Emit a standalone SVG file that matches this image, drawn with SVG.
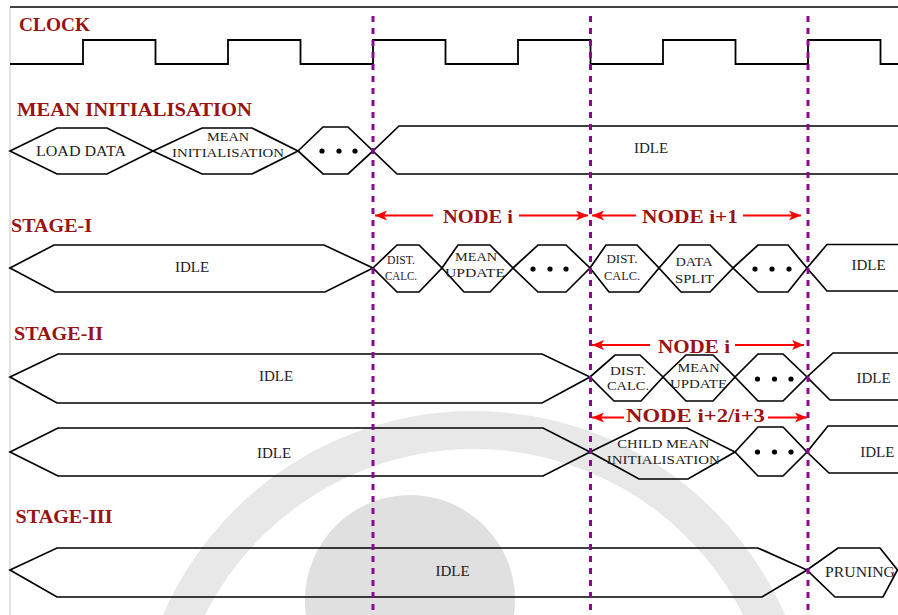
<svg xmlns="http://www.w3.org/2000/svg" width="898" height="615" viewBox="0 0 898 615">
<style>
.lbl{font-family:"Liberation Serif","DejaVu Serif",serif;font-weight:bold;font-size:19px;fill:#9a1212}
.nl{font-family:"Liberation Serif","DejaVu Serif",serif;font-weight:bold;font-size:19px;fill:#9a1212;text-anchor:middle}
.t{font-family:"Liberation Serif","DejaVu Serif",serif;font-size:15px;fill:#222;text-anchor:middle}
.s{font-family:"Liberation Serif","DejaVu Serif",serif;font-size:13px;fill:#222;text-anchor:middle}
.hx{fill:none;stroke:#000;stroke-width:1.7;stroke-linejoin:miter}
.vl{stroke:#8c0a8c;stroke-width:3;stroke-dasharray:6 6;fill:none}
.ar{stroke:#ff0000;stroke-width:2;fill:none;marker-end:url(#ah)}
</style>
<defs>
<marker id="ah" viewBox="0 0 12 10" refX="12" refY="5" markerWidth="12" markerHeight="10" markerUnits="userSpaceOnUse" orient="auto">
<path d="M0,0 L12,5 L0,10 L3,5 Z" fill="#ff0000"/>
</marker>
</defs>
<rect width="898" height="615" fill="#fff"/>
<g id="watermark">
<circle cx="474" cy="750" r="320" fill="none" stroke="#e8e8e8" stroke-width="38"/>
<circle cx="410" cy="600" r="105" fill="#e0e0e0"/>
</g>
<g id="frame">
<line x1="10" y1="7" x2="10" y2="615" stroke="#c8c8c8" stroke-width="1"/>
<line x1="10" y1="7" x2="898" y2="7" stroke="#000" stroke-width="1.6"/>
</g>
<g id="labels">
<text class="lbl" x="19" y="31" textLength="71" lengthAdjust="spacingAndGlyphs">CLOCK</text>
<text class="lbl" x="17" y="116" textLength="235" lengthAdjust="spacingAndGlyphs">MEAN INITIALISATION</text>
<text class="lbl" x="11" y="232" textLength="81" lengthAdjust="spacingAndGlyphs">STAGE-I</text>
<text class="lbl" x="14" y="340" textLength="89" lengthAdjust="spacingAndGlyphs">STAGE-II</text>
<text class="lbl" x="15.5" y="523" textLength="97" lengthAdjust="spacingAndGlyphs">STAGE-III</text>
</g>
<g id="clock">
<path d="M10,64 H83 V40 H155.5 V64 H228 V40 H300.5 V64 H373 V40 H445.5 V64 H518 V40 H590.5 V64 H663 V40 H735.5 V64 H808 V40 H880.5 V64 H898" fill="none" stroke="#000" stroke-width="1.8"/>
</g>
<g id="mean-init">
<g id="mi-load"><polygon class="hx" points="10,151 57,128 107,128 153,151 107,174 57,174"/><text class="t" x="81" y="156" textLength="90" lengthAdjust="spacingAndGlyphs">LOAD DATA</text></g>
<g id="mi-mean"><polygon class="hx" points="153,151 202,128 252,128 298,151 252,174 202,174"/><text class="s" x="228" y="141" textLength="42" lengthAdjust="spacingAndGlyphs">MEAN</text><text class="s" x="228" y="157" textLength="112" lengthAdjust="spacingAndGlyphs">INITIALISATION</text></g>
<g id="mi-dots"><polygon class="hx" points="298,151 323,127 348,127 373,151 348,174 323,174"/><circle cx="322" cy="151" r="2.6"/><circle cx="339" cy="151" r="2.6"/><circle cx="355" cy="151" r="2.6"/></g>
<g id="mi-idle"><path class="hx" d="M898,126 H399 L373,151 L397,174 H898"/><text class="t" x="651" y="153">IDLE</text></g>
</g>
<g id="stage1">
<g id="s1-idle"><polygon class="hx" points="10,268 54,245 324,245 373,268 325,292 55,292"/><text class="t" x="192" y="272">IDLE</text></g>
<g id="s1-dist"><polygon class="hx" points="373,268 397,245 419,245 442,268 419,292 397,292"/><text class="s" x="401" y="264" textLength="28" lengthAdjust="spacingAndGlyphs">DIST.</text><text class="s" x="401" y="280" textLength="32" lengthAdjust="spacingAndGlyphs">CALC.</text></g>
<g id="s1-mean"><polygon class="hx" points="442,268 458,245 490,245 513,268 490,292 464,292"/><text class="s" x="476" y="261" textLength="42" lengthAdjust="spacingAndGlyphs">MEAN</text><text class="s" x="475" y="277" textLength="60" lengthAdjust="spacingAndGlyphs">UPDATE</text></g>
<g id="s1-dots"><polygon class="hx" points="513,268 538,245 566,245 590,268 566,292 538,292"/><circle cx="533" cy="269" r="2.6"/><circle cx="550" cy="269" r="2.6"/><circle cx="566" cy="269" r="2.6"/></g>
<g id="s1-dist2"><polygon class="hx" points="590,268 606,245 637,245 659,268 639,292 609,292"/><text class="s" x="622" y="263" textLength="31" lengthAdjust="spacingAndGlyphs">DIST.</text><text class="s" x="622" y="280" textLength="36" lengthAdjust="spacingAndGlyphs">CALC.</text></g>
<g id="s1-split"><polygon class="hx" points="659,268 679,245 710,245 733,268 710,292 681,292"/><text class="s" x="694" y="266" textLength="37" lengthAdjust="spacingAndGlyphs">DATA</text><text class="s" x="694.5" y="282.5" textLength="39" lengthAdjust="spacingAndGlyphs">SPLIT</text></g>
<g id="s1-dots2"><polygon class="hx" points="733,268 758,245 788,245 807,268 788,292 758,292"/><circle cx="755" cy="269" r="2.6"/><circle cx="772" cy="269" r="2.6"/><circle cx="789" cy="269" r="2.6"/></g>
<g id="s1-idle2"><path class="hx" d="M898,244.5 H827 L807,268 L827,291 H898"/><text class="t" x="868.5" y="270">IDLE</text></g>
</g>
<g id="stage2a">
<g id="s2a-idle"><polygon class="hx" points="10,377 58,354 542,354 590,377 542,403 57,403"/><text class="t" x="276" y="381">IDLE</text></g>
<g id="s2a-dist"><polygon class="hx" points="590,377 615,355 640,355 663,377 641,401 614,401"/><text class="s" x="628" y="374.5" textLength="36" lengthAdjust="spacingAndGlyphs">DIST.</text><text class="s" x="628" y="390" textLength="42" lengthAdjust="spacingAndGlyphs">CALC.</text></g>
<g id="s2a-mean"><polygon class="hx" points="663,377 686,355 713,355 735,377 713,401 686,401"/><text class="s" x="698.5" y="371.5" textLength="42" lengthAdjust="spacingAndGlyphs">MEAN</text><text class="s" x="698.5" y="387.5" textLength="57" lengthAdjust="spacingAndGlyphs">UPDATE</text></g>
<g id="s2a-dots"><polygon class="hx" points="735,377 758,354 783,354 807,377 783,401 758,401"/><circle cx="757.5" cy="379" r="2.6"/><circle cx="774.5" cy="379" r="2.6"/><circle cx="791" cy="379" r="2.6"/></g>
<g id="s2a-idle2"><path class="hx" d="M898,353 H833 L807,377 L830,400 H898"/><text class="t" x="873.5" y="383">IDLE</text></g>
</g>
<g id="stage2b">
<g id="s2b-idle"><polygon class="hx" points="10,452 58,428 543,428 590,452 543,476 58,476"/><text class="t" x="274" y="457.5">IDLE</text></g>
<g id="s2b-child"><polygon class="hx" points="590,452 639,428 687,428 735,452 688,479 639,479"/><text class="s" x="663.3" y="448.3" textLength="92" lengthAdjust="spacingAndGlyphs">CHILD MEAN</text><text class="s" x="663.3" y="463.5" textLength="113" lengthAdjust="spacingAndGlyphs">INITIALISATION</text></g>
<g id="s2b-dots"><polygon class="hx" points="735,452 758,427 783,427 807,452 783,476 758,476"/><circle cx="757.5" cy="452" r="2.6"/><circle cx="774.5" cy="452" r="2.6"/><circle cx="791" cy="452" r="2.6"/></g>
<g id="s2b-idle2"><path class="hx" d="M898,426 H828 L807,452 L829,473 H898"/><text class="t" x="877.3" y="457">IDLE</text></g>
</g>
<g id="stage3">
<g id="s3-idle"><polygon class="hx" points="10,570 57,548 758,548 807,570 762,597 57,597"/><text class="t" x="452.5" y="576">IDLE</text></g>
<g id="s3-prune"><polygon class="hx" points="807,570 838,548 880,548 897.5,570 883,597 835,597"/><text class="t" x="860" y="576.5" textLength="70" lengthAdjust="spacingAndGlyphs">PRUNING</text></g>
</g>
<g id="connectors">
<line class="vl" x1="373" y1="16" x2="373" y2="615"/>
<line class="vl" x1="590.5" y1="16" x2="590.5" y2="615"/>
<line class="vl" x1="808" y1="16" x2="808" y2="615"/>
<line class="ar" x1="433" y1="215.5" x2="375" y2="215.5"/>
<line class="ar" x1="519" y1="215.5" x2="588" y2="215.5"/>
<line class="ar" x1="636" y1="215.5" x2="592" y2="215.5"/>
<line class="ar" x1="743" y1="215.5" x2="801" y2="215.5"/>
<line class="ar" x1="650" y1="345" x2="592" y2="345"/>
<line class="ar" x1="735" y1="345" x2="804" y2="345"/>
<line class="ar" x1="624" y1="417.5" x2="592" y2="417.5"/>
<line class="ar" x1="768" y1="417.5" x2="807" y2="417.5"/>
</g>
<g id="node-labels">
<text class="nl" x="478" y="223" textLength="70" lengthAdjust="spacingAndGlyphs">NODE i</text>
<text class="nl" x="690" y="223" textLength="96" lengthAdjust="spacingAndGlyphs">NODE i+1</text>
<text class="nl" x="694" y="353" textLength="72" lengthAdjust="spacingAndGlyphs">NODE i</text>
<text class="nl" x="695.5" y="421.5" textLength="139" lengthAdjust="spacingAndGlyphs">NODE i+2/i+3</text>
</g>
</svg>
